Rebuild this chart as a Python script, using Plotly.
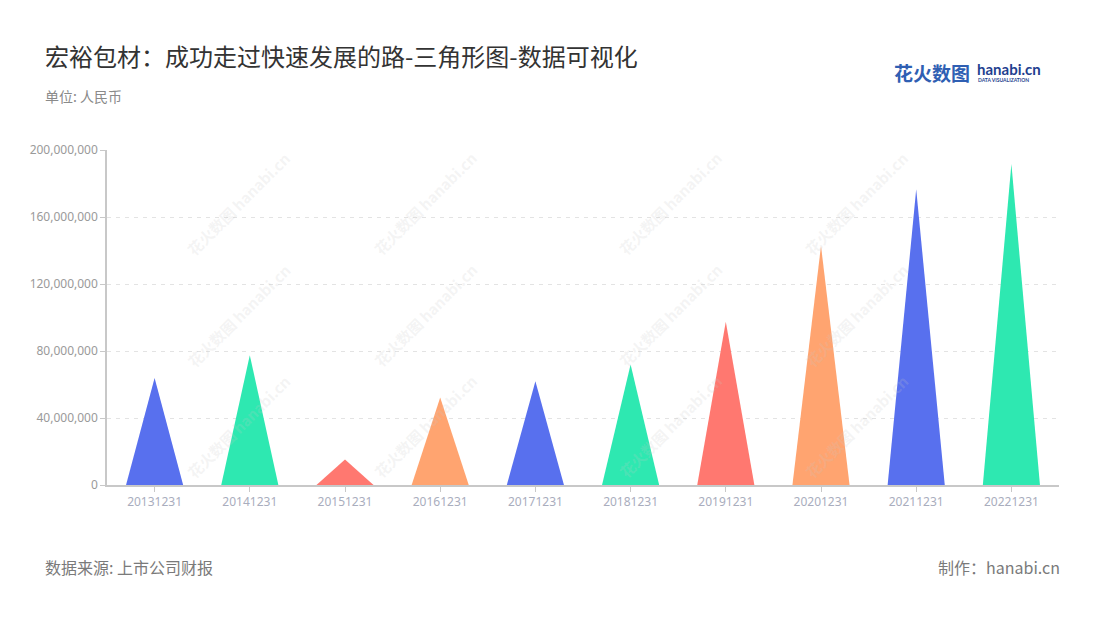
import plotly.graph_objects as go

categories = ["20131231", "20141231", "20151231", "20161231", "20171231",
              "20181231", "20191231", "20201231", "20211231", "20221231"]
values = [63900000, 77500000, 15200000, 52200000, 62000000,
          71900000, 97400000, 142800000, 176500000, 191600000]
palette = ["#5870EE", "#2EE8B1", "#FF7870", "#FFA470"]
y_ticks = [0, 40000000, 80000000, 120000000, 160000000, 200000000]

HALF = 0.3
FONT = "Noto Sans CJK SC"

fig = go.Figure()
for i, (cat, v) in enumerate(zip(categories, values)):
    fig.add_trace(go.Scatter(
        x=[i - HALF, i, i + HALF, i - HALF],
        y=[0, v, 0, 0],
        mode="lines",
        fill="toself",
        fillcolor=palette[i % len(palette)],
        line=dict(width=0, color=palette[i % len(palette)]),
        name=cat,
        hoverinfo="skip",
        showlegend=False,
    ))

fig.update_xaxes(
    range=[-0.5, len(categories) - 0.5],
    tickmode="array",
    tickvals=list(range(len(categories))),
    ticktext=categories,
    showgrid=False,
    zeroline=False,
    showline=True,
    linecolor="#c8c8c8",
    linewidth=1.5,
    ticks="outside",
    ticklen=5,
    tickcolor="#c8c8c8",
    tickfont=dict(family="Noto Sans", size=12, color="#a9adbd"),
)
fig.update_yaxes(
    range=[0, 200000000],
    tickmode="array",
    tickvals=y_ticks,
    ticktext=[f"{t:,}" for t in y_ticks],
    showgrid=True,
    gridcolor="#e3e3e3",
    griddash="4px,5px",
    gridwidth=1,
    zeroline=False,
    showline=True,
    linecolor="#c8c8c8",
    linewidth=1.5,
    ticks="outside",
    ticklen=5,
    tickcolor="#c8c8c8",
    tickfont=dict(family="Noto Sans", size=12, color="#9a9a9a"),
)

W, H = 1100, 620
ML, MR, MT, MB = 107, 41, 150, 135
PW, PH = W - ML - MR, H - MT - MB


def px(x):
    return (x - ML) / PW


def py(y):
    return (H - MB - y) / PH


annotations = []
# watermarks
for cy in [145, 315, 485]:
    for cx in [180, 425, 670, 915]:
        annotations.append(dict(
            text="<b>花火数图</b> <b>hanabi.cn</b>", x=px(cx), y=py(cy),
            xref="paper", yref="paper", showarrow=False, textangle=-45,
            font=dict(family=FONT, size=15, color="rgba(200,200,200,0.2)"),
        ))
annotations += [
    dict(text="宏裕包材：成功走过快速发展的路-三角形图-数据可视化",
         x=px(43), y=py(55), xref="paper", yref="paper", showarrow=False,
         xanchor="left", yanchor="middle",
         font=dict(family=FONT, size=24, color="#333333")),
    dict(text="单位: 人民币", x=px(43), y=py(96), xref="paper", yref="paper",
         showarrow=False, xanchor="left", yanchor="middle",
         font=dict(family=FONT, size=14, color="#8a8a8a")),
    dict(text="数据来源: 上市公司财报", x=px(43), y=py(567), xref="paper", yref="paper",
         showarrow=False, xanchor="left", yanchor="middle",
         font=dict(family=FONT, size=16, color="#7a7a7a")),
    dict(text="制作：hanabi.cn", x=px(1062), y=py(567), xref="paper", yref="paper",
         showarrow=False, xanchor="right", yanchor="middle",
         font=dict(family=FONT, size=16, color="#7a7a7a")),
    # logo
    dict(text="<b>花火数图</b>", x=px(972), y=py(72), xref="paper", yref="paper",
         showarrow=False, xanchor="right", yanchor="middle",
         font=dict(family=FONT, size=19, color="#2f5fb3")),
    dict(text="<b>hanabi.cn</b>", x=px(975), y=py(69), xref="paper", yref="paper",
         showarrow=False, xanchor="left", yanchor="middle",
         font=dict(family="Lato", size=15, color="#1f3f8f")),
    dict(text="<b>DATA VISUALIZATION</b>", x=px(976), y=py(80), xref="paper", yref="paper",
         showarrow=False, xanchor="left", yanchor="middle",
         font=dict(family="Lato", size=5, color="#1f3f8f")),
]

fig.update_layout(
    width=W, height=H,
    margin=dict(l=ML, r=MR, t=MT, b=MB),
    paper_bgcolor="white",
    plot_bgcolor="white",
    annotations=annotations,
    showlegend=False,
)

fig.write_html("out.html", config={"displayModeBar": False},
               post_script="document.body.style.margin='0';")
